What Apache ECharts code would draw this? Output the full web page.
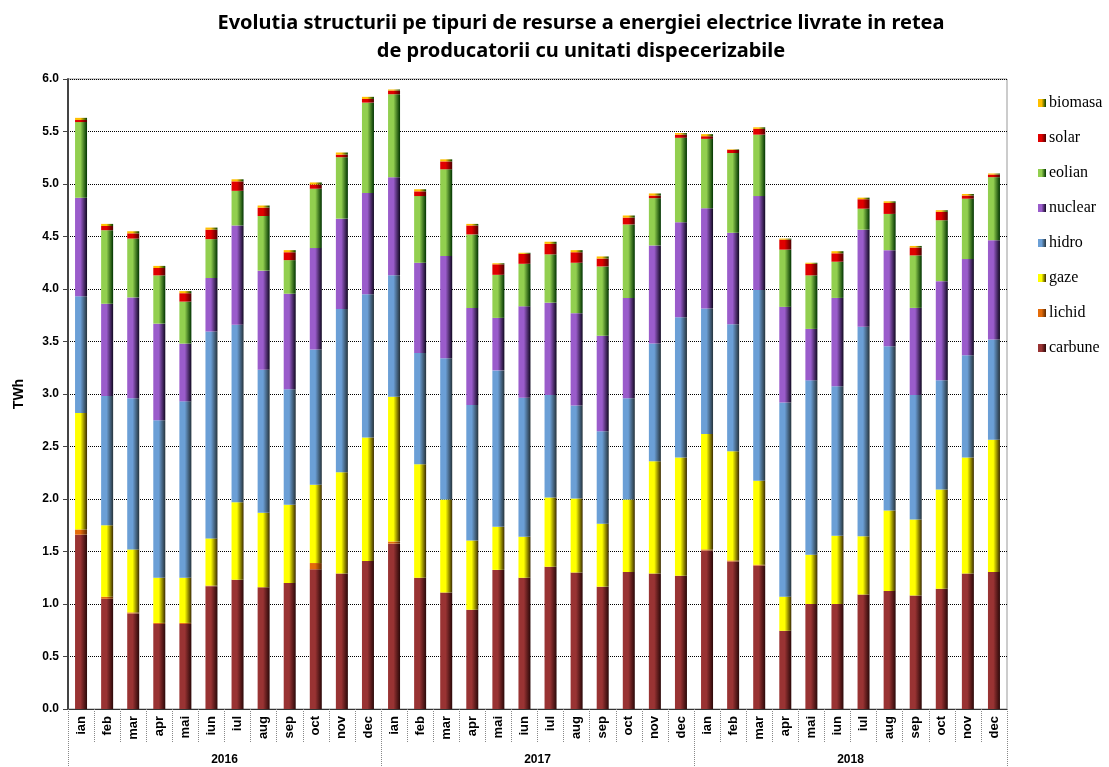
<!DOCTYPE html>
<html>
<head>
<meta charset="utf-8">
<script src="https://cdn.jsdelivr.net/npm/echarts@6/dist/echarts.min.js"></script>
<style>
  html, body { margin: 0; padding: 0; background: #fff; }
  #chart { width: 1109px; height: 767px; }
</style>
</head>
<body>
<div id="chart"></div>
<script>
// luni si ani
var months = ['ian','feb','mar','apr','mai','iun','iul','aug','sep','oct','nov','dec'];
var years = ['2016', '2017', '2018'];
var categories = [];
years.forEach(function (y) { months.forEach(function (m) { categories.push(m); }); });

// valori TWh
var carbune = [1.66,1.05,0.91,0.81,0.81,1.17,1.23,1.16,1.20,1.33,1.29,1.41,
               1.575,1.25,1.11,0.945,1.325,1.25,1.355,1.30,1.165,1.305,1.29,1.27,
               1.51,1.405,1.365,0.745,1.00,1.00,1.09,1.125,1.08,1.145,1.29,1.305];
var lichid = [0.05,0.02,0.01,0.01,0.01,0.005,0,0,0,0.06,0,0,
              0.02,0,0,0,0,0,0,0,0,0,0,0,
              0.01,0.01,0.01,0,0,0,0,0,0,0,0,0];
var gaze = [1.11,0.68,0.60,0.43,0.43,0.45,0.74,0.71,0.745,0.745,0.965,1.175,
            1.38,1.08,0.885,0.66,0.41,0.39,0.66,0.705,0.60,0.69,1.07,1.125,
            1.10,1.04,0.80,0.325,0.47,0.65,0.555,0.765,0.725,0.945,1.105,1.26];
var hidro = [1.11,1.23,1.44,1.50,1.68,1.97,1.69,1.36,1.10,1.29,1.555,1.365,
             1.155,1.06,1.345,1.29,1.49,1.325,0.975,0.885,0.88,0.965,1.12,1.335,
             1.195,1.21,1.815,1.85,1.66,1.425,1.995,1.565,1.185,1.04,0.975,0.955];
var nuclear = [0.94,0.88,0.96,0.92,0.55,0.51,0.945,0.945,0.91,0.965,0.86,0.965,
               0.935,0.86,0.975,0.925,0.50,0.87,0.88,0.88,0.91,0.955,0.935,0.905,
               0.955,0.87,0.895,0.91,0.49,0.84,0.925,0.915,0.83,0.945,0.915,0.945];
var eolian = [0.72,0.70,0.56,0.46,0.40,0.37,0.33,0.52,0.32,0.565,0.585,0.86,
              0.79,0.635,0.825,0.70,0.41,0.405,0.46,0.48,0.66,0.70,0.45,0.805,
              0.66,0.76,0.585,0.545,0.51,0.345,0.20,0.345,0.50,0.58,0.575,0.60];
var solar = [0.02,0.04,0.05,0.07,0.08,0.09,0.09,0.08,0.075,0.04,0.025,0.035,
             0.035,0.045,0.075,0.085,0.10,0.095,0.10,0.10,0.075,0.065,0.025,0.03,
             0.025,0.03,0.055,0.095,0.11,0.08,0.09,0.105,0.075,0.08,0.03,0.025];
var biomasa = [0.02,0.02,0.02,0.02,0.02,0.02,0.02,0.02,0.02,0.02,0.02,0.02,
               0.01,0.02,0.02,0.015,0.01,0.01,0.02,0.02,0.02,0.02,0.02,0.015,
               0.02,0.005,0.015,0.01,0.01,0.02,0.015,0.015,0.015,0.015,0.015,0.01];

// gradient orizontal ca in Excel
function grad(c1, c2) {
  return new echarts.graphic.LinearGradient(0, 0, 1, 0, [
    { offset: 0, color: c1 },
    { offset: 0.45, color: c1 },
    { offset: 1, color: c2 }
  ]);
}

function serie(name, data, c1, c2) {
  return {
    name: name,
    type: 'bar',
    stack: 'total',
    xAxisIndex: 0,
    barWidth: 12,
    data: data,
    itemStyle: { color: grad(c1, c2) }
  };
}

var chart = echarts.init(document.getElementById('chart'));
chart.setOption({
  animation: false,
  title: {
    text: 'Evolutia structurii pe tipuri de resurse a energiei electrice livrate in retea\nde producatorii cu unitati dispecerizabile',
    left: 576,
    textAlign: 'center',
    top: 4,
    textStyle: { fontFamily: 'Noto Sans', fontWeight: 'bold', fontSize: 20, lineHeight: 28, color: '#000' }
  },
  legend: {
    orient: 'vertical',
    left: 1033,
    top: 90,
    itemWidth: 8,
    itemHeight: 8,
    itemGap: 19,
    icon: 'rect',
    data: ['biomasa','solar','eolian','nuclear','hidro','gaze','lichid','carbune'],
    textStyle: { fontFamily: 'Liberation Serif', fontSize: 16, color: '#000', padding: [0, 0, 0, -2] }
  },
  grid: {
    left: 68, right: 102, top: 79, bottom: 58,
    show: true, borderColor: '#999', borderWidth: 1
  },
  xAxis: [
    {
      type: 'category',
      data: categories,
      position: 'bottom',
      axisLine: { lineStyle: { color: '#333', width: 1 } },
      axisTick: { show: true, interval: 0, length: 34, lineStyle: { color: '#888', type: 'dotted' } },
      axisLabel: {
        interval: 0, rotate: 90, margin: 7,
        fontFamily: 'Liberation Sans', fontWeight: 'bold', fontSize: 13, color: '#000'
      }
    },
    {
      type: 'category',
      data: years,
      position: 'bottom',
      axisLine: { show: false },
      axisTick: { show: true, interval: 0, length: 58, lineStyle: { color: '#888', type: 'dotted' } },
      axisLabel: {
        margin: 45,
        fontFamily: 'Liberation Sans', fontWeight: 'bold', fontSize: 12, color: '#000'
      }
    }
  ],
  yAxis: {
    type: 'value',
    min: 0, max: 6, interval: 0.5,
    name: 'TWh',
    nameLocation: 'middle',
    nameGap: 42,
    nameTextStyle: { fontFamily: 'Liberation Sans', fontWeight: 'bold', fontSize: 14, color: '#000' },
    axisLine: { show: true, lineStyle: { color: '#444', width: 2 } },
    axisTick: { show: true, length: 5, lineStyle: { color: '#444' } },
    axisLabel: {
      margin: 9,
      formatter: function (v) { return v.toFixed(1); },
      fontFamily: 'Liberation Sans', fontWeight: 'bold', fontSize: 12, color: '#000'
    },
    splitLine: { lineStyle: { color: '#000', type: [1, 1], width: 1 } }
  },
  series: [
    serie('carbune', carbune, '#993333', '#2a0808'),
    serie('lichid', lichid, '#E46C0A', '#5a2a05'),
    serie('gaze', gaze, '#FFFF00', '#3a2a00'),
    serie('hidro', hidro, '#6B9FD6', '#26343c'),
    serie('nuclear', nuclear, '#9A5CCB', '#100820'),
    serie('eolian', eolian, '#92CF4F', '#003300'),
    serie('solar', solar, '#E00000', '#500000'),
    serie('biomasa', biomasa, '#FFC000', '#004000')
  ]
});
</script>
</body>
</html>
